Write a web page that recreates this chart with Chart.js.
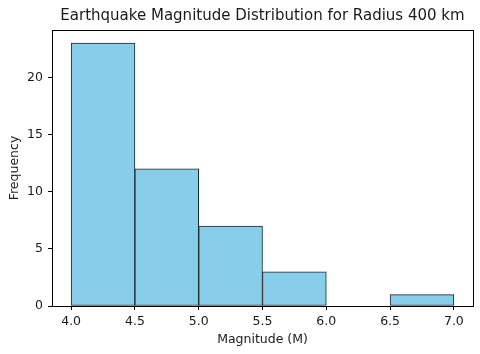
<!DOCTYPE html>
<html>
<head>
<meta charset="utf-8">
<script src="https://cdn.jsdelivr.net/npm/chart.js@4"></script>
<style>
  html, body { margin: 0; padding: 0; background: #fff; }
  canvas { display: block; }
</style>
</head>
<body>
<canvas id="chart" width="480" height="354"></canvas>
<script>
// histogram bins (centres, width 0.5) and counts
const binCenters = [4.25, 4.75, 5.25, 5.75, 6.25, 6.75];
const counts = [23, 12, 7, 3, 0, 1];
const xTicks = [4.0, 4.5, 5.0, 5.5, 6.0, 6.5, 7.0];
const yTicks = [0, 5, 10, 15, 20];
const titleText = 'Earthquake Magnitude Distribution for Radius 400 km';

const FONT = 'DejaVu Sans';
const INK = '#1a1a1a';

// box around the plot area + title centred over the axes
const frame = {
  id: 'frame',
  afterDraw(chart){
    const a = chart.chartArea, ctx = chart.ctx;
    ctx.save();
    ctx.strokeStyle = '#000';
    ctx.lineWidth = 1;
    ctx.strokeRect(Math.round(a.left)+0.5, Math.round(a.top)+0.5, Math.round(a.right-a.left), Math.round(a.bottom-a.top));
    ctx.fillStyle = INK;
    ctx.font = '15px "' + FONT + '"';
    ctx.textAlign = 'center';
    ctx.textBaseline = 'middle';
    ctx.fillText(titleText, (a.left + a.right) / 2, 16);
    ctx.restore();
  }
};

new Chart(document.getElementById('chart'), {
  type: 'bar',
  data: {
    datasets: [{
      data: binCenters.map((x, i) => ({x, y: counts[i]})),
      backgroundColor: '#87CEEB',
      borderColor: '#222',
      borderWidth: 1,
      borderSkipped: false,
      barPercentage: 1,
      categoryPercentage: 1
    }]
  },
  options: {
    responsive: false,
    animation: false,
    layout: { padding: { left: 0, right: 7, top: 30, bottom: 0 } },
    plugins: {
      legend: { display: false },
      tooltip: { enabled: false },
      title: { display: false }
    },
    scales: {
      x: {
        type: 'linear',
        offset: false,
        min: 3.85, max: 7.15,
        afterBuildTicks: s => { s.ticks = xTicks.map(v => ({value: v})); },
        afterFit: s => { s.height = 48; },
        ticks: {
          color: INK, font: { family: FONT, size: 12.5 }, padding: 4,
          callback: v => v.toFixed(1), maxRotation: 0, autoSkip: false
        },
        grid: { offset: false, drawOnChartArea: false, drawTicks: true, tickLength: 4, color: '#000' },
        border: { display: false },
        title: { display: true, text: 'Magnitude (M)', color: INK, font: { family: FONT, size: 12.5 }, padding: { top: 2, bottom: 7 } }
      },
      y: {
        min: 0, max: 24.15,
        afterBuildTicks: s => { s.ticks = yTicks.map(v => ({value: v})); },
        afterFit: s => { s.width = 52; },
        ticks: { color: INK, font: { family: FONT, size: 12.5 }, padding: 5 },
        grid: { drawOnChartArea: false, drawTicks: true, tickLength: 4, color: '#000' },
        border: { display: false },
        title: { display: true, text: 'Frequency', color: INK, font: { family: FONT, size: 12.5 }, padding: { top: 7, bottom: 4 } }
      }
    }
  },
  plugins: [frame]
});
</script>
</body>
</html>
